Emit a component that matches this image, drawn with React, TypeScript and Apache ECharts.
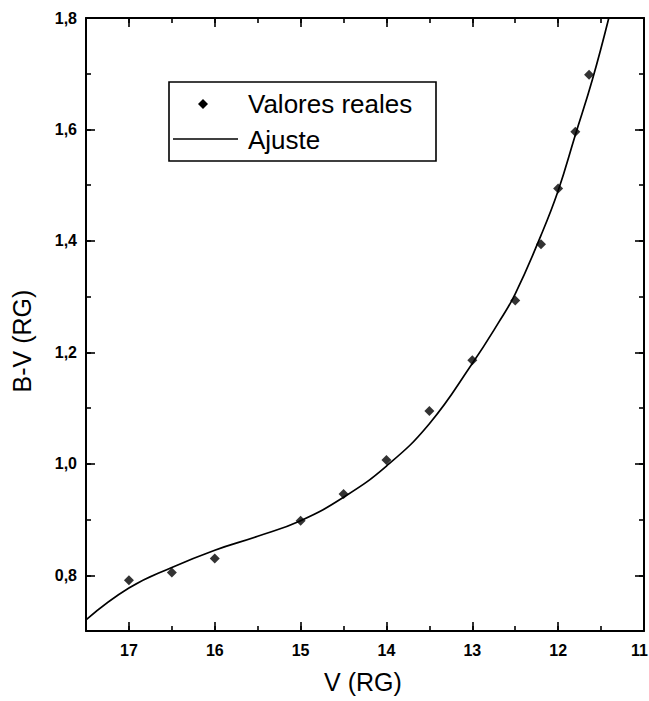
import React, { useEffect, useRef } from "react";
import * as echarts from "echarts";

// Observed points (Valores reales)
const V_OBS = [17.0, 16.5, 16.0, 15.0, 14.5, 14.0, 13.5, 13.0, 12.5, 12.2, 12.0, 11.8, 11.64];
const BV_OBS = [0.791, 0.805, 0.83, 0.898, 0.946, 1.007, 1.095, 1.186, 1.293, 1.394, 1.494, 1.596, 1.698];

// Fitted curve (Ajuste)
const V_FIT = [17.5, 17.0, 16.5, 16.0, 15.5, 15.0, 14.5, 14.0, 13.5, 13.0, 12.7, 12.5, 12.2, 12.0, 11.8, 11.6, 11.41];
const BV_FIT = [0.72, 0.777, 0.814, 0.845, 0.87, 0.898, 0.94, 0.996, 1.072, 1.18, 1.252, 1.305, 1.41, 1.49, 1.59, 1.69, 1.8];

const X_TITLE = "V (RG)";
const Y_TITLE = "B-V (RG)";
const LEGEND_POINTS = "Valores reales";
const LEGEND_FIT = "Ajuste";

const FONT = "'Liberation Sans', Arial, Helvetica, sans-serif";
const BLACK = "#000";

export default function App() {
  const ref = useRef<HTMLDivElement>(null);

  useEffect(() => {
    if (!ref.current) return;
    const chart = echarts.init(ref.current, null, { renderer: "svg" });

    const tickLabel = {
      color: BLACK,
      fontFamily: FONT,
      fontSize: 16,
      fontWeight: "bold" as const,
    };

    const xBase = (position: "bottom" | "top", interval: number, len: number, withLine: boolean, labels: boolean) => ({
      type: "value" as const,
      position,
      min: 11,
      max: 17.5,
      interval,
      inverse: true,
      axisLine: { show: withLine, onZero: false, lineStyle: { color: BLACK, width: 2 } },
      axisTick: { show: true, inside: true, length: len, lineStyle: { color: BLACK, width: 1.6 } },
      axisLabel: labels
        ? {
            show: true,
            ...tickLabel,
            margin: 11,
            showMinLabel: true,
            showMaxLabel: true,
            rich: {
              edge: { ...tickLabel, padding: [0, 9, 0, 0] },
            },
            formatter: (v: number) => {
              if (Math.abs(v - Math.round(v)) > 1e-6) return "";
              const r = Math.round(v);
              return r === 11 ? `{edge|${r}}` : String(r);
            },
          }
        : { show: false },
      splitLine: { show: false },
    });

    const yMinor = (position: "left" | "right") => ({
      type: "value" as const,
      position,
      min: 0.7,
      max: 1.8,
      interval: 0.1,
      axisLine: { show: true, onZero: false, lineStyle: { color: BLACK, width: 2 } },
      axisTick: { show: true, inside: true, length: 5, lineStyle: { color: BLACK, width: 1.6 } },
      axisLabel: { show: false },
      splitLine: { show: false },
    });

    // Major ticks every 0.2 (mirrored scale so ticks start on a multiple of the interval)
    const yMajor = (position: "left" | "right", labels: boolean) => ({
      type: "value" as const,
      position,
      inverse: true,
      min: -1.8,
      max: -0.7,
      interval: 0.2,
      axisLine: { show: false },
      axisTick: { show: true, inside: true, length: 9, lineStyle: { color: BLACK, width: 1.6 } },
      axisLabel: labels
        ? {
            show: true,
            ...tickLabel,
            margin: 9,
            showMinLabel: true,
            showMaxLabel: true,
            formatter: (v: number) => {
              const t = Math.round(-v * 10);
              return t % 2 === 0 ? (t / 10).toFixed(1).replace(".", ",") : "";
            },
          }
        : { show: false },
      splitLine: { show: false },
    });

    chart.setOption({
      animation: false,
      backgroundColor: "#fff",
      grid: { left: 86, right: 5, top: 18, bottom: 70, containLabel: false, outerBoundsMode: "none" },
      xAxis: [
        xBase("bottom", 0.5, 5, true, false),
        xBase("bottom", 1, 9, false, true),
        xBase("top", 0.5, 5, true, false),
        xBase("top", 1, 9, false, false),
      ],
      yAxis: [yMinor("left"), yMajor("left", true), yMinor("right"), yMajor("right", false)],
      series: [
        {
          name: LEGEND_FIT,
          type: "line",
          xAxisIndex: 0,
          yAxisIndex: 0,
          data: V_FIT.map((v, i) => [v, BV_FIT[i]]),
          smooth: 0.45,
          showSymbol: false,
          symbol: "none",
          lineStyle: { color: BLACK, width: 1.7 },
          z: 2,
        },
        {
          name: LEGEND_POINTS,
          type: "scatter",
          xAxisIndex: 0,
          yAxisIndex: 0,
          data: V_OBS.map((v, i) => [v, BV_OBS[i]]),
          symbol: "diamond",
          symbolSize: 10,
          itemStyle: { color: BLACK },
          z: 3,
        },
      ],
      graphic: [
        {
          type: "text",
          x: 363,
          y: 682,
          style: {
            text: X_TITLE,
            font: `25px ${FONT}`,
            fill: BLACK,
            align: "center",
            verticalAlign: "middle",
          },
        },
        {
          type: "text",
          x: 22,
          y: 341,
          rotation: Math.PI / 2,
          style: {
            text: Y_TITLE,
            font: `25px ${FONT}`,
            fill: BLACK,
            align: "center",
            verticalAlign: "middle",
          },
        },
        {
          type: "group",
          children: [
            {
              type: "rect",
              shape: { x: 169, y: 82, width: 267, height: 79 },
              style: { fill: "#fff", stroke: BLACK, lineWidth: 1.6 },
            },
            {
              type: "polygon",
              shape: { points: [[203, 99], [208, 104], [203, 109], [198, 104]] },
              style: { fill: BLACK },
            },
            {
              type: "line",
              shape: { x1: 173, y1: 139, x2: 238, y2: 139 },
              style: { stroke: BLACK, lineWidth: 1.4 },
            },
            {
              type: "text",
              x: 248,
              y: 104,
              style: { text: LEGEND_POINTS, font: `26px ${FONT}`, fill: BLACK, verticalAlign: "middle" },
            },
            {
              type: "text",
              x: 248,
              y: 140,
              style: { text: LEGEND_FIT, font: `26px ${FONT}`, fill: BLACK, verticalAlign: "middle" },
            },
          ],
        },
      ],
    });

    return () => chart.dispose();
  }, []);

  return (
    <div
      ref={ref}
      style={{ position: "fixed", left: 0, top: 0, width: 649, height: 701, background: "#fff" }}
    />
  );
}
